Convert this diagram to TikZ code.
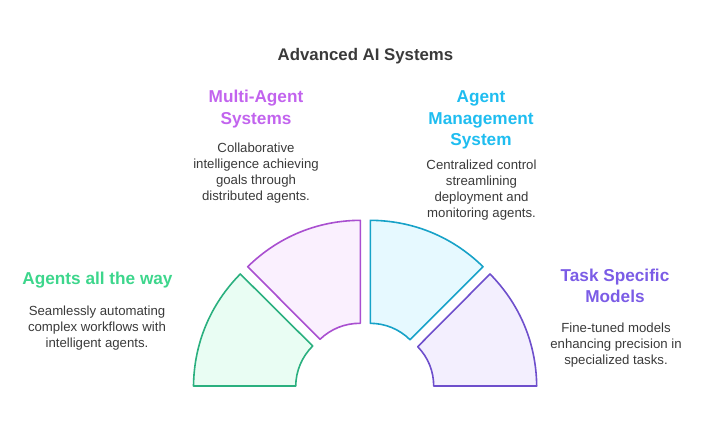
\documentclass[tikz,border=0pt]{standalone}
\usepackage{fontspec}
\setmainfont{Liberation Sans}
\usetikzlibrary{positioning}
\definecolor{greenline}{HTML}{2BB07F}
\definecolor{greenfill}{HTML}{E9FDF3}
\definecolor{greentext}{HTML}{3DD68C}
\definecolor{pinkline}{HTML}{A94FD0}
\definecolor{pinkfill}{HTML}{FAF0FE}
\definecolor{pinktext}{HTML}{C264EE}
\definecolor{cyanline}{HTML}{17A2C8}
\definecolor{cyanfill}{HTML}{E6F9FF}
\definecolor{cyantext}{HTML}{1FBDF0}
\definecolor{violetline}{HTML}{6E4FCC}
\definecolor{violetfill}{HTML}{F3EFFE}
\definecolor{violettext}{HTML}{7B5CE6}
\definecolor{bodytext}{HTML}{3A3A3A}
\tikzset{
	sector/.style={line width=1.2pt, line join=round},
	heading/.style={font=\fontsize{12.9}{16}\selectfont\bfseries, align=center, inner sep=0pt},
	blurb/.style={font=\fontsize{9.9}{12}\selectfont, align=center, inner sep=0pt, text=bodytext},
	maintitle/.style={font=\fontsize{12.6}{15}\selectfont\bfseries, inner sep=0pt, text=bodytext}
}
\begin{document}
\begin{tikzpicture}[x=0.75pt, y=-0.75pt]
	\useasboundingbox (0,0) rectangle (720,431);

	% sectors
	\draw[sector, draw=greenline, fill=greenfill] (193.5,386) to[bend left=22, looseness=0.9] (240.3,274) -- (312.7,346) to[bend right=22, looseness=0.9] (295.7,386) -- cycle;
	\draw[sector, draw=pinkline, fill=pinkfill] (247.7,266.7) to[bend left=22, looseness=0.9] (360.3,220.3) -- (360.3,323.3) to[bend right=22, looseness=0.9] (320,339.3) -- cycle;
	\draw[sector, draw=cyanline, fill=cyanfill] (370.3,220.3) to[bend left=22, looseness=0.9] (483,266.7) -- (410,339.7) to[bend right=22, looseness=0.9] (370.3,323.3) -- cycle;
	\draw[sector, draw=violetline, fill=violetfill] (490,274) to[bend left=22, looseness=0.9] (536.7,386) -- (433.7,386) to[bend right=22, looseness=0.9] (417.7,346.7) -- cycle;

	% texts
	\node[maintitle] (title) at (365.5,56) {Advanced AI Systems};

	\node[heading, text=pinktext] (multi) at (256,109) {Multi-Agent\\Systems};
	\node[blurb] (multitext) at (256,173) {Collaborative\\intelligence achieving\\goals through\\distributed agents.};

	\node[heading, text=cyantext] (manage) at (481,120) {Agent\\Management\\System};
	\node[blurb] (managetext) at (481.5,190) {Centralized control\\streamlining\\deployment and\\monitoring agents.};

	\node[heading, text=greentext] (agents) at (97.5,280.5) {Agents all the way};
	\node[blurb] (agentstext) at (97,328.5) {Seamlessly automating\\complex workflows with\\intelligent agents.};

	\node[heading, text=violettext] (task) at (615,286) {Task Specific\\Models};
	\node[blurb] (tasktext) at (616,345) {Fine-tuned models\\enhancing precision in\\specialized tasks.};
\end{tikzpicture}
\end{document}
